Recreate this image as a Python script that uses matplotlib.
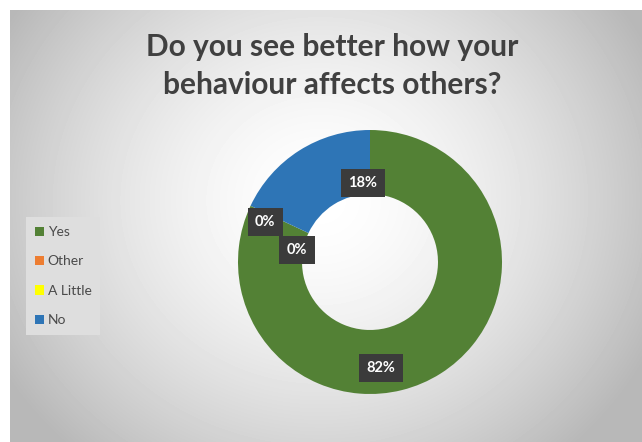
import numpy as np
import matplotlib
matplotlib.use("Agg")
import matplotlib.pyplot as plt
from matplotlib.patches import Patch

categories = ["Yes", "Other", "A Little", "No"]
shares = [82, 0, 0, 18]
colors = ["#538135", "#ED7D31", "#FFFF00", "#2E75B6"]
# label anchor points in pie data units (radius 1)
label_pos = [(0.083, -0.803), (-0.553, 0.091), (-0.795, 0.303), (-0.053, 0.598)]
title = "Do you see better how your\nbehaviour affects others?"

W, H = 642, 442
fig = plt.figure(figsize=(W / 100, H / 100), dpi=100)
fig.patch.set_facecolor("white")

# radial-gradient chart area
bg = fig.add_axes([10 / W, 0, (W - 10) / W, (H - 10) / H])
yy, xx = np.mgrid[0:432, 0:632]
cx, cy = 310, 190
d = np.sqrt(((xx - cx) / 360.0) ** 2 + ((yy - cy) / 330.0) ** 2)
v = np.clip(1.0 - 0.27 * d ** 1.6, 0.72, 1.0)
bg.imshow(v, cmap="gray", vmin=0, vmax=1, aspect="auto", interpolation="bilinear")
bg.axis("off")

fig.text(332 / W, 1 - 66 / H, title, ha="center", va="center",
         fontsize=21.5, fontweight="bold", color="#404040", family="Lato",
         linespacing=1.45)

# doughnut
R = 132
cxp, cyp = 370, 262
ax = fig.add_axes([(cxp - R) / W, 1 - (cyp + R) / H, 2 * R / W, 2 * R / H])
ax.pie(shares, colors=colors, startangle=90, counterclock=False,
       radius=1.0, wedgeprops=dict(width=0.485, linewidth=0))
ax.set_xlim(-1, 1)
ax.set_ylim(-1, 1)
ax.set_aspect("equal")
ax.axis("off")

for val, (x, y) in zip(shares, label_pos):
    ax.text(x, y, f"{val}%", ha="center", va="center", fontsize=10.5,
            fontweight="bold", color="white", family="Lato",
            bbox=dict(boxstyle="square,pad=0.5", facecolor="#3b3b3b",
                      edgecolor="none"))

# legend
handles = [Patch(facecolor=c, edgecolor="none") for c in colors]
leg = fig.legend(handles, categories, loc="upper left",
                 bbox_to_anchor=(26 / W, 1 - 217 / H), frameon=True,
                 prop=dict(family="Lato", size=10),
                 handlelength=0.65, handleheight=0.65, handletextpad=0.25,
                 labelspacing=1.25, borderpad=0.65, borderaxespad=0,
                 fancybox=False)
leg.get_frame().set_facecolor("#dedede")
leg.get_frame().set_edgecolor("none")
leg.get_frame().set_alpha(1)
for t in leg.get_texts():
    t.set_color("#4a4a4a")

fig.savefig("out.png", dpi=100)
